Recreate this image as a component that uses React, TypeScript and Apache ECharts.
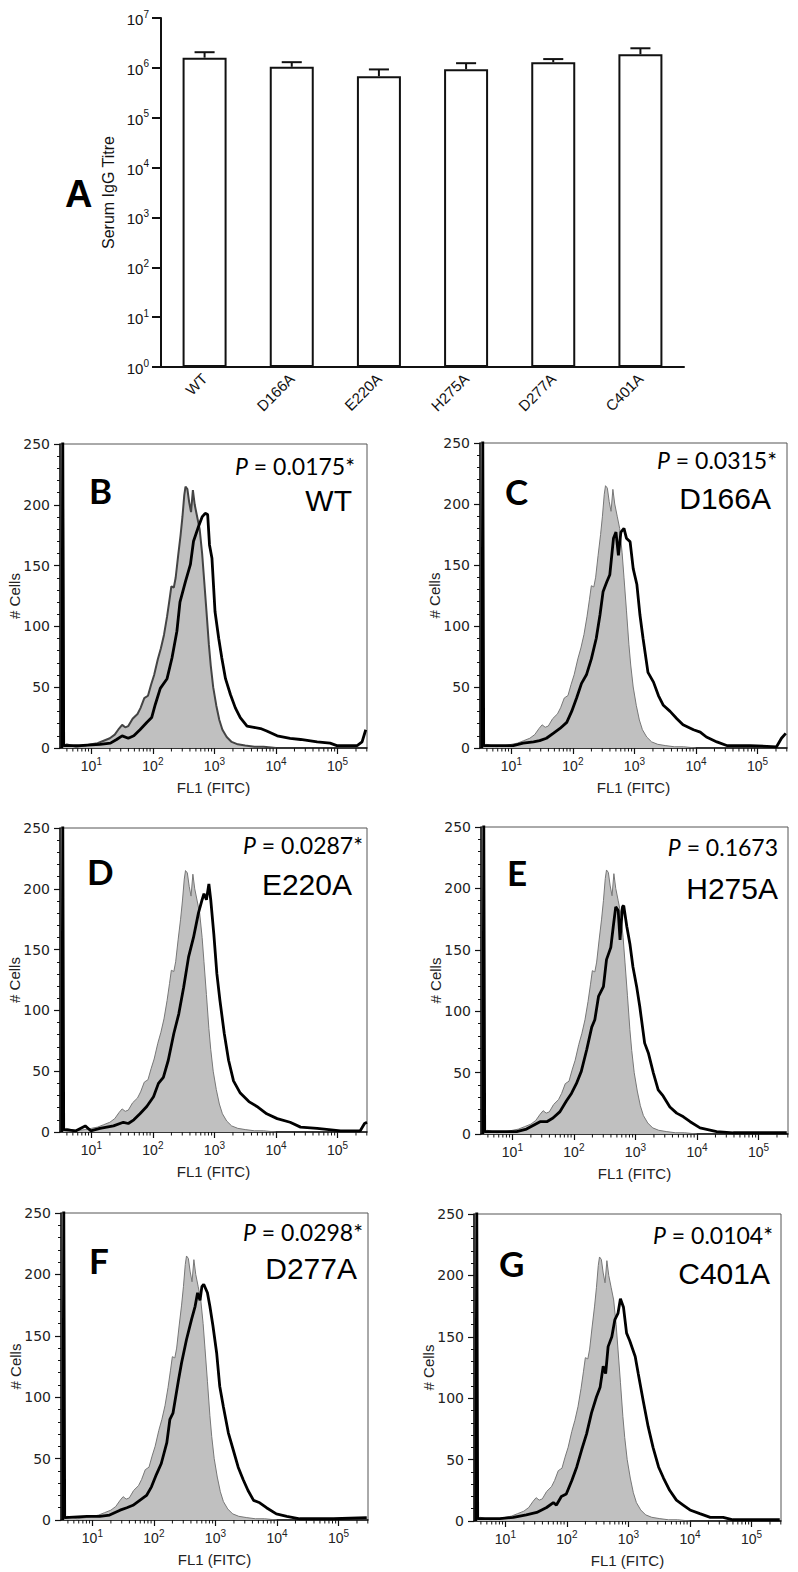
import React, { useEffect, useRef } from 'react';
import * as echarts from 'echarts';

// ---------- Panel A data ----------
const categories = ['WT', 'D166A', 'E220A', 'H275A', 'D277A', 'C401A'];
const titreMean = [1.6e6, 1.05e6, 6.8e5, 9.4e5, 1.3e6, 1.88e6];
const titreSem = [4.6e5, 2.5e5, 2.5e5, 3.0e5, 2.0e5, 5.9e5];
const titreExponentTicks = [0, 1, 2, 3, 4, 5, 6, 7];

// ---------- Histogram data (x = log10 FL1, y = # cells) ----------
const fl1DecadeTicks = [1, 2, 3, 4, 5];
const cellTicks = [0, 50, 100, 150, 200, 250];

const controlLogFL1 = [0.52, 0.535, 0.55, 0.6, 0.75, 0.9, 1.0, 1.1, 1.2, 1.3, 1.38, 1.45, 1.5, 1.55, 1.6, 1.67, 1.75, 1.8, 1.86, 1.92, 1.97, 2.02, 2.08, 2.13, 2.18, 2.23, 2.27, 2.3, 2.34, 2.37, 2.41, 2.45, 2.48, 2.51, 2.53, 2.56, 2.59, 2.62, 2.65, 2.68, 2.72, 2.76, 2.8, 2.83, 2.87, 2.91, 2.94, 2.98, 3.03, 3.08, 3.13, 3.2, 3.28, 3.38, 3.5, 3.65, 3.8, 4.0];
const controlCounts = [0, 260, 2, 3, 1, 2, 3, 4, 6, 8, 11, 16, 19, 17, 18, 24, 28, 33, 41, 43, 52, 60, 73, 82, 93, 108, 122, 133, 132, 140, 158, 175, 190, 208, 215, 213, 202, 194, 212, 200, 190, 180, 160, 140, 113, 85, 68, 50, 35, 23, 15, 9, 5, 3, 2, 1, 1, 0];

const wtLogFL1 = [0.52, 0.535, 0.55, 0.8, 1.14, 1.31, 1.41, 1.50, 1.60, 1.69, 1.79, 1.90, 1.98, 2.04, 2.12, 2.23, 2.31, 2.39, 2.44, 2.53, 2.61, 2.66, 2.74, 2.80, 2.85, 2.89, 2.92, 2.96, 3.01, 3.07, 3.12, 3.18, 3.26, 3.34, 3.42, 3.53, 3.64, 3.75, 3.85, 4.02, 4.23, 4.40, 4.67, 4.88, 4.99, 5.32, 5.40, 5.46];
const wtCounts = [0, 260, 2, 2, 3, 4, 7, 10, 8, 10, 15, 21, 25, 36, 49, 57, 74, 96, 120, 137, 151, 170, 182, 190, 193, 192, 167, 156, 112, 90, 74, 57, 44, 33, 25, 18, 17, 16, 14, 10, 8, 7, 5, 4, 2, 2, 5, 15];

const d166aLogFL1 = [0.52, 0.535, 0.55, 0.8, 1.03, 1.19, 1.36, 1.46, 1.57, 1.68, 1.79, 1.90, 1.98, 2.06, 2.14, 2.22, 2.30, 2.38, 2.44, 2.49, 2.55, 2.60, 2.66, 2.70, 2.74, 2.78, 2.83, 2.87, 2.93, 2.98, 3.04, 3.09, 3.14, 3.22, 3.31, 3.39, 3.47, 3.58, 3.69, 3.79, 3.96, 4.07, 4.17, 4.34, 4.50, 4.88, 5.31, 5.39, 5.46];
const d166aCounts = [0, 260, 2, 2, 2, 4, 5, 6, 8, 12, 16, 21, 30, 41, 53, 60, 73, 90, 109, 128, 136, 142, 172, 177, 158, 177, 180, 172, 169, 147, 134, 109, 90, 62, 54, 43, 35, 30, 24, 19, 15, 13, 9, 5, 2, 2, 1, 8, 12];

const e220aLogFL1 = [0.52, 0.535, 0.55, 0.75, 0.90, 0.99, 1.14, 1.36, 1.52, 1.60, 1.69, 1.79, 1.90, 2.01, 2.09, 2.17, 2.25, 2.34, 2.42, 2.50, 2.58, 2.66, 2.74, 2.80, 2.83, 2.87, 2.91, 2.94, 2.99, 3.04, 3.09, 3.16, 3.23, 3.31, 3.42, 3.56, 3.69, 3.85, 4.02, 4.23, 4.40, 4.67, 5.05, 5.37, 5.44, 5.48];
const e220aCounts = [0, 260, 2, 1, 5, 1, 3, 5, 8, 7, 10, 15, 21, 29, 40, 45, 59, 81, 97, 119, 144, 160, 180, 191, 196, 191, 204, 191, 163, 130, 108, 81, 59, 42, 32, 25, 21, 15, 11, 8, 4, 3, 1, 1, 7, 8];

const h275aLogFL1 = [0.52, 0.535, 0.55, 0.85, 1.07, 1.23, 1.45, 1.56, 1.66, 1.77, 1.88, 1.96, 2.04, 2.12, 2.21, 2.29, 2.34, 2.40, 2.48, 2.53, 2.60, 2.64, 2.68, 2.72, 2.75, 2.79, 2.81, 2.86, 2.91, 2.96, 3.02, 3.07, 3.15, 3.21, 3.29, 3.37, 3.45, 3.56, 3.67, 3.78, 3.89, 4.05, 4.32, 4.59, 5.46];
const h275aCounts = [0, 260, 2, 2, 2, 4, 10, 10, 13, 18, 27, 33, 41, 51, 69, 87, 93, 112, 120, 142, 152, 169, 185, 182, 158, 185, 186, 169, 155, 136, 120, 104, 74, 66, 50, 36, 31, 22, 17, 14, 10, 5, 2, 1, 1];

const d277aLogFL1 = [0.52, 0.535, 0.55, 0.91, 1.12, 1.28, 1.45, 1.56, 1.66, 1.77, 1.88, 1.96, 2.04, 2.12, 2.21, 2.26, 2.31, 2.40, 2.45, 2.53, 2.61, 2.67, 2.71, 2.75, 2.78, 2.81, 2.87, 2.91, 2.96, 3.02, 3.07, 3.13, 3.21, 3.29, 3.37, 3.45, 3.53, 3.62, 3.72, 3.83, 3.99, 4.16, 4.37, 4.92, 5.46];
const d277aCounts = [0, 260, 2, 3, 3, 4, 8, 10, 12, 16, 20, 27, 37, 46, 63, 82, 87, 114, 128, 147, 163, 174, 185, 179, 190, 192, 185, 174, 158, 136, 109, 92, 71, 57, 43, 33, 24, 16, 14, 10, 5, 3, 1, 1, 2];

const c401aLogFL1 = [0.52, 0.535, 0.55, 0.91, 1.13, 1.34, 1.51, 1.67, 1.78, 1.83, 1.91, 1.99, 2.08, 2.16, 2.24, 2.32, 2.40, 2.48, 2.54, 2.59, 2.63, 2.67, 2.73, 2.78, 2.83, 2.87, 2.92, 2.97, 3.02, 3.11, 3.16, 3.24, 3.32, 3.40, 3.49, 3.57, 3.67, 3.78, 3.89, 4.00, 4.16, 4.33, 4.54, 4.70, 5.46];
const c401aCounts = [0, 260, 2, 2, 3, 5, 7, 11, 15, 13, 20, 22, 33, 44, 58, 71, 88, 101, 109, 126, 120, 142, 150, 164, 169, 181, 174, 153, 147, 134, 120, 98, 77, 60, 44, 35, 25, 17, 13, 9, 6, 3, 3, 1, 1];

const panelLetters = ['B', 'C', 'D', 'E', 'F', 'G'];
const panelNames = ['WT', 'D166A', 'E220A', 'H275A', 'D277A', 'C401A'];
const panelPValues = ['0.0175*', '0.0315*', '0.0287*', '0.1673', '0.0298*', '0.0104*'];
const panelLogFL1 = [wtLogFL1, d166aLogFL1, e220aLogFL1, h275aLogFL1, d277aLogFL1, c401aLogFL1];
const panelCounts = [wtCounts, d166aCounts, e220aCounts, h275aCounts, d277aCounts, c401aCounts];

// ---------- layout (pixels) ----------
const histLayout = [
  { grid: { left: 60, top: 444, width: 307, height: 304 }, letter: [89, 490], p: [355, 466], name: [352, 500] },
  { grid: { left: 480, top: 443, width: 307, height: 305 }, letter: [505, 491], p: [777, 460], name: [771, 498] },
  { grid: { left: 60, top: 828, width: 307, height: 304 }, letter: [87, 871], p: [363, 845], name: [352, 884] },
  { grid: { left: 481, top: 827, width: 307, height: 307 }, letter: [507, 872], p: [778, 847], name: [778, 888] },
  { grid: { left: 61, top: 1213, width: 307, height: 307 }, letter: [89, 1260], p: [363, 1232], name: [357, 1268] },
  { grid: { left: 474, top: 1214, width: 307, height: 307 }, letter: [499, 1263], p: [773, 1235], name: [770, 1273] },
];

const X_MIN = 0.49;
const X_MAX = 5.48;

function minorLogTicks(): number[] {
  const out: number[] = [];
  for (let d = 0; d <= 5; d++) {
    for (let k = 2; k <= 9; k++) {
      const v = Math.log10(k * Math.pow(10, d));
      if (v > X_MIN && v < X_MAX) out.push(v);
    }
  }
  return out;
}

const AX = '#111';
const SANS = 'Liberation Sans';

function buildOption() {
  const grids: any[] = [
    { left: 161, top: 18, width: 523, height: 349, show: false, containLabel: false, outerBoundsMode: 'none' },
  ];
  const xAxes: any[] = [
    {
      type: 'category', gridIndex: 0, data: categories,
      axisLine: { lineStyle: { color: AX, width: 2 } },
      axisTick: { alignWithLabel: true, length: 10, lineStyle: { color: AX, width: 2 } },
      axisLabel: { rotate: 45, margin: 9, fontSize: 15, fontFamily: SANS, color: AX },
    },
  ];
  const yAxes: any[] = [
    {
      type: 'value', gridIndex: 0, min: 0, max: 7, interval: 1,
      name: 'Serum IgG Titre', nameLocation: 'middle', nameGap: 45, nameRotate: 90, nameMoveOverlap: false,
      nameTextStyle: { fontSize: 16, fontFamily: SANS, color: AX },
      axisLine: { show: true, lineStyle: { color: AX, width: 2 } },
      axisTick: { show: true, length: 9, lineStyle: { color: AX, width: 2 } },
      splitLine: { show: false },
      axisLabel: {
        margin: 12, color: AX,
        customValues: titreExponentTicks,
        formatter: (v: number) => `{b|10}{s|${v}}`,
        rich: {
          b: { fontSize: 15, fontFamily: SANS, color: AX, lineHeight: 18, verticalAlign: 'bottom' },
          s: { fontSize: 10, fontFamily: SANS, color: AX, lineHeight: 10, verticalAlign: 'top' },
        },
      },
    },
  ];
  const series: any[] = [
    {
      type: 'bar', xAxisIndex: 0, yAxisIndex: 0, barWidth: 44,
      data: titreMean.map((v) => Math.log10(v)),
      itemStyle: { color: '#fff', borderColor: AX, borderWidth: 2 },
      z: 2,
    },
    {
      type: 'custom', xAxisIndex: 0, yAxisIndex: 0,
      data: titreMean.map((v, i) => [i, Math.log10(v), Math.log10(v + titreSem[i])]),
      encode: { x: 0, y: [1, 2] },
      renderItem: (params: any, api: any) => {
        const i = api.value(0);
        const lo = api.coord([i, api.value(1)]);
        const hi = api.coord([i, api.value(2)]);
        const half = api.size([1, 0])[0] * 0.115;
        const st = { stroke: AX, lineWidth: 2 };
        return {
          type: 'group',
          children: [
            { type: 'line', shape: { x1: hi[0], y1: hi[1], x2: lo[0], y2: lo[1] }, style: st },
            { type: 'line', shape: { x1: hi[0] - half, y1: hi[1], x2: hi[0] + half, y2: hi[1] }, style: st },
          ],
        };
      },
      z: 3,
    },
  ];

  const graphics: any[] = [
    {
      type: 'text', x: 65, y: 194,
      style: { text: 'A', fontSize: 38, fontWeight: 'bold', fontFamily: SANS, fill: '#000', align: 'left', verticalAlign: 'middle', textAlign: 'left', textVerticalAlign: 'middle' },
    },
  ];

  const minors = minorLogTicks();

  histLayout.forEach((lay, k) => {
    const gi = k + 1;
    grids.push({ ...lay.grid, show: true, borderColor: '#555', borderWidth: 1, backgroundColor: 'transparent', containLabel: false, outerBoundsMode: 'none' });
    const majorIdx = xAxes.length;
    xAxes.push({
      type: 'value', gridIndex: gi, min: X_MIN, max: X_MAX, position: 'bottom',
      name: 'FL1 (FITC)', nameLocation: 'middle', nameGap: 32, nameMoveOverlap: false,
      nameTextStyle: { fontSize: 15, fontFamily: SANS, color: '#222' },
      axisLine: { show: true, onZero: false, lineStyle: { color: AX, width: 1.5 } },
      axisTick: { show: true, customValues: fl1DecadeTicks, length: 6, lineStyle: { color: AX, width: 1.2 } },
      splitLine: { show: false },
      axisLabel: {
        customValues: fl1DecadeTicks, margin: 8, color: '#222',
        formatter: (v: number) => `{b|10}{s|${Math.round(v)}}`,
        rich: {
          b: { fontSize: 14, fontFamily: SANS, color: '#222', lineHeight: 17, verticalAlign: 'bottom' },
          s: { fontSize: 10, fontFamily: SANS, color: '#222', lineHeight: 10, verticalAlign: 'top' },
        },
      },
    });
    const yIdx = yAxes.length;
    yAxes.push({
      type: 'value', gridIndex: gi, min: 0, max: 250, interval: 50,
      name: '# Cells', nameLocation: 'middle', nameGap: 38, nameRotate: 90, nameMoveOverlap: false,
      nameTextStyle: { fontSize: 15, fontFamily: SANS, color: '#222' },
      axisLine: { show: true, lineStyle: { color: AX, width: 1.5 } },
      axisTick: { show: true, length: 6, lineStyle: { color: AX, width: 1.2 } },
      minorTick: { show: true, splitNumber: 5, length: 3, lineStyle: { color: AX, width: 1 } },
      splitLine: { show: false },
      minorSplitLine: { show: false },
      axisLabel: { customValues: cellTicks, margin: 10, fontSize: 14, fontFamily: 'DejaVu Sans', color: '#222' },
    });
    // minor (log) ticks of the FL1 axis, placed through the axis scale
    series.push({
      type: 'custom', xAxisIndex: majorIdx, yAxisIndex: yIdx, clip: false, silent: true,
      data: minors.map((v) => [v, 0]),
      encode: { x: 0, y: 1 },
      renderItem: (params: any, api: any) => {
        const p = api.coord([api.value(0), 0]);
        return { type: 'line', shape: { x1: p[0], y1: p[1], x2: p[0], y2: p[1] + 3.5 }, style: { stroke: AX, lineWidth: 1 } };
      },
      z: 5,
    });
    const dark = k === 0;
    series.push({
      type: 'line', xAxisIndex: majorIdx, yAxisIndex: yIdx, symbol: 'none', clip: true,
      data: controlLogFL1.map((x, i) => [x, controlCounts[i]]),
      lineStyle: { color: dark ? '#444' : '#777', width: dark ? 2 : 1 },
      areaStyle: { color: '#c0c0c0', opacity: 1 },
      z: 2,
    });
    series.push({
      type: 'line', xAxisIndex: majorIdx, yAxisIndex: yIdx, symbol: 'none', clip: true,
      data: panelLogFL1[k].map((x, i) => [x, panelCounts[k][i]]),
      lineStyle: { color: '#000', width: 2.8 },
      z: 3,
    });

    graphics.push({
      type: 'text', x: lay.letter[0], y: lay.letter[1],
      style: { text: panelLetters[k], fontSize: 35, fontWeight: 'bold', fontFamily: 'Lato', fill: '#000', align: 'left', verticalAlign: 'middle', textAlign: 'left', textVerticalAlign: 'middle' },
    });
    graphics.push({
      type: 'text', x: lay.p[0], y: lay.p[1],
      style: {
        text: `{i|P} = ${panelPValues[k]}`, fontSize: 23, fontFamily: 'Lato', fill: '#000',
        align: 'right', verticalAlign: 'middle', textAlign: 'right', textVerticalAlign: 'middle',
        rich: { i: { fontSize: 23, fontFamily: 'Lato', fontStyle: 'italic', fill: '#000' } },
      },
    });
    graphics.push({
      type: 'text', x: lay.name[0], y: lay.name[1],
      style: { text: panelNames[k], fontSize: 30, fontFamily: SANS, fill: '#000', align: 'right', verticalAlign: 'middle', textAlign: 'right', textVerticalAlign: 'middle' },
    });
  });

  return {
    animation: false,
    backgroundColor: '#fff',
    textStyle: { fontFamily: SANS },
    grid: grids,
    xAxis: xAxes,
    yAxis: yAxes,
    series,
    graphic: graphics,
  };
}

export default function App() {
  const ref = useRef<HTMLDivElement>(null);
  useEffect(() => {
    if (!ref.current) return;
    const chart = echarts.init(ref.current, null, { renderer: 'svg' });
    chart.setOption(buildOption() as any);
    return () => chart.dispose();
  }, []);
  return <div ref={ref} style={{ position: 'absolute', left: 0, top: 0, width: 798, height: 1572 }} />;
}
